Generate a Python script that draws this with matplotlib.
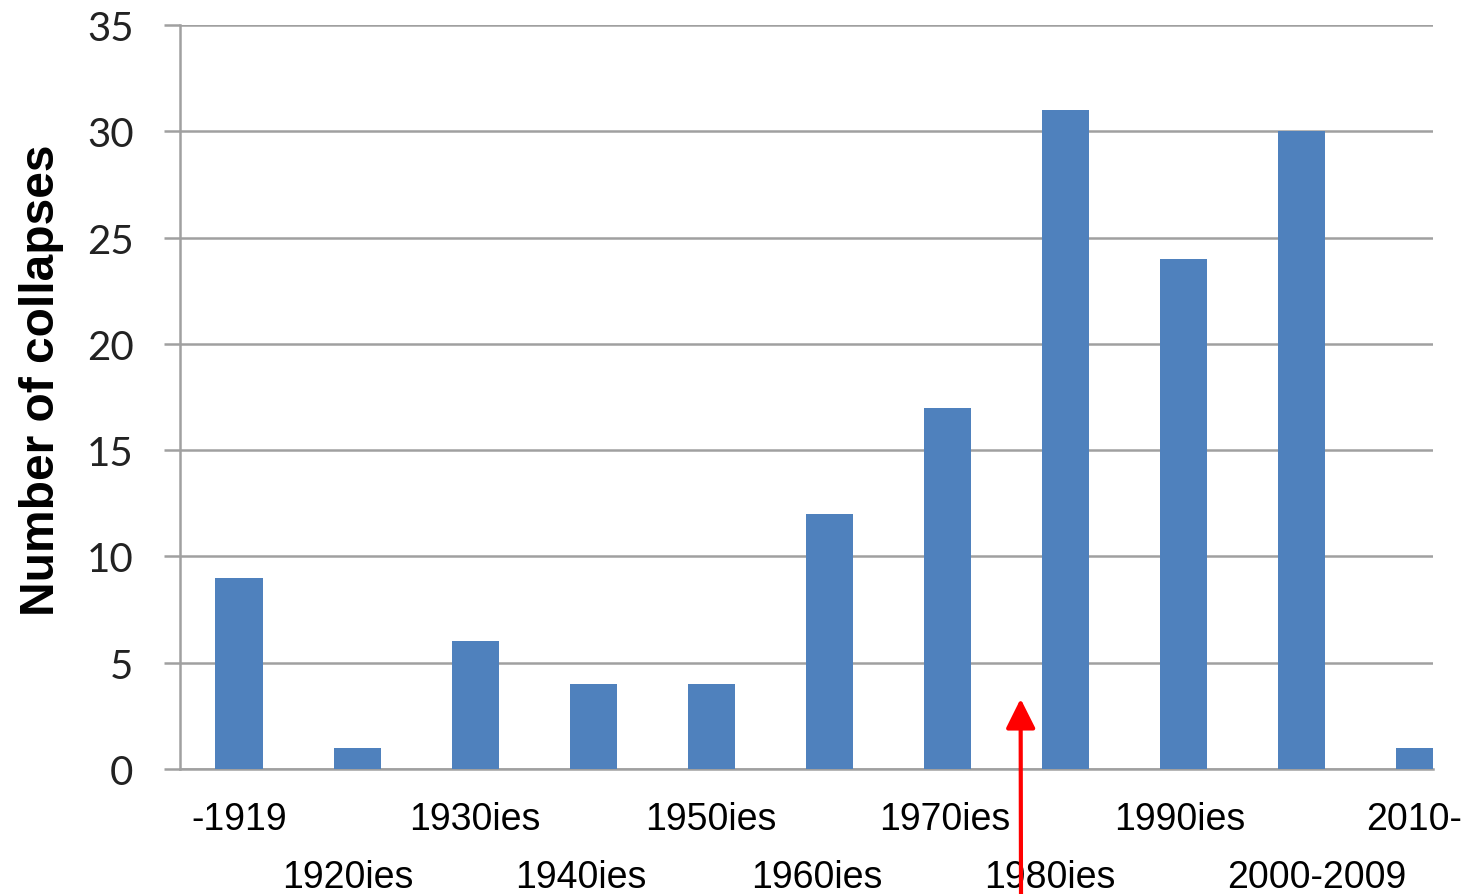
import matplotlib.pyplot as plt
from matplotlib.transforms import ScaledTranslation

periods = ["-1919", "1920ies", "1930ies", "1940ies", "1950ies", "1960ies",
           "1970ies", "1980ies", "1990ies", "2000-2009", "2010-"]
collapses = [9, 1, 6, 4, 4, 12, 17, 31, 24, 30, 1]
y_ticks = [0, 5, 10, 15, 20, 25, 30, 35]

bar_color = "#4f81bd"
grid_color = "#a0a0a0"

fig = plt.figure(figsize=(14.65, 8.95), dpi=100)
ax = fig.add_axes([0.1229, 0.1397, 0.855, 0.8313])

x = list(range(len(periods)))
ax.bar(x, collapses, width=0.4, color=bar_color, zorder=3)

ax.set_ylim(0, 35)
ax.set_xlim(-0.5, 10.11)
ax.set_yticks(y_ticks)
ax.yaxis.grid(True, color=grid_color, linewidth=1.8, zorder=0)
ax.set_axisbelow(True)

for side in ["top", "right"]:
    ax.spines[side].set_visible(False)
ax.spines["left"].set_color(grid_color)
ax.spines["left"].set_linewidth(1.8)
ax.spines["bottom"].set_color(grid_color)
ax.spines["bottom"].set_linewidth(1.8)

ax.tick_params(axis="y", length=11.5, width=1.8, color=grid_color, pad=22,
               labelsize=29)
for lbl in ax.get_yticklabels():
    lbl.set_fontfamily("Lato")
    lbl.set_color("#222222")

ax.set_xticks(x)
ax.set_xticklabels(periods, fontsize=27, fontfamily="Liberation Sans")
ax.tick_params(axis="x", length=0, pad=23)

# alternate the category labels over two rows
for i, tick in enumerate(ax.xaxis.get_major_ticks()):
    if i % 2:
        tick.set_pad(65)

# small sideways nudges (in points) so neighbouring labels don't collide
nudges = [0, -7, 0, -9, 0, -9, -2, -11, -3, 11, -4]
for lbl, dx in zip(ax.get_xticklabels(), nudges):
    lbl.set_transform(lbl.get_transform()
                      + ScaledTranslation(dx / 72, 0, fig.dpi_scale_trans))

ax.set_ylabel("Number of collapses", fontsize=34.5, fontweight="bold",
              fontfamily="Liberation Sans")
ax.yaxis.set_label_coords(-0.093, 0.524)

ax.annotate("", xy=(6.62, 3.3), xycoords="data",
            xytext=(1021 / 1465, 0.0), textcoords="figure fraction",
            arrowprops=dict(arrowstyle="-|>,head_length=1.8,head_width=0.9",
                            color="red", lw=3, shrinkA=0, shrinkB=0),
            annotation_clip=False, zorder=5)

fig.savefig("out.png", dpi=100)
